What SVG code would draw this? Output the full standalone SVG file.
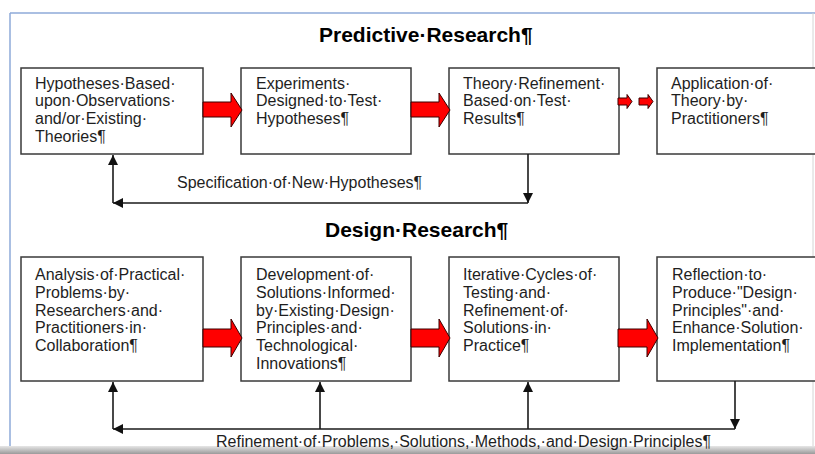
<svg xmlns="http://www.w3.org/2000/svg" width="815" height="454" viewBox="0 0 815 454">
<defs>
<marker id="ah" markerUnits="userSpaceOnUse" markerWidth="11" markerHeight="10" refX="10" refY="5" orient="auto">
<path d="M0,0 L10,5 L0,10 z" fill="#111"/>
</marker>
<linearGradient id="band" x1="0" y1="0" x2="0" y2="1">
<stop offset="0" stop-color="#e6e6e6"/>
<stop offset="1" stop-color="#9a9a9a"/>
</linearGradient>
<style>
.box{fill:#fff;stroke:#3a3a3a;stroke-width:1.5}
.t{font-family:"Liberation Sans",Arial,sans-serif;font-size:16px;fill:#1e1e1e}
.title{font-family:"Liberation Sans",Arial,sans-serif;font-size:21px;font-weight:bold;fill:#000}
.red{fill:#ff0000;stroke:#3a0000;stroke-width:1}
.conn{fill:none;stroke:#1a1a1a;stroke-width:1.6;marker-end:url(#ah)}
.line{fill:none;stroke:#1a1a1a;stroke-width:1.6}
</style>
</defs>
<rect x="0" y="0" width="815" height="454" fill="#fff"/>
<g id="frame">
<line x1="10" y1="13" x2="815" y2="13" stroke="#8eaad8" stroke-width="1.5"/>
<line x1="10" y1="13" x2="10" y2="450" stroke="#8eaad8" stroke-width="1.5"/>
<line x1="813" y1="13" x2="813" y2="450" stroke="#d4d4d4" stroke-width="1"/>
</g>
<g id="titles">
<text class="title" x="319" y="42">Predictive·Research¶</text>
<text class="title" x="325" y="237">Design·Research¶</text>
</g>
<g id="p1">
<rect class="box" x="21" y="68" width="182" height="86"/>
<text class="t" x="35" y="88.5">Hypotheses·Based·</text>
<text class="t" x="35" y="106.3">upon·Observations·</text>
<text class="t" x="35" y="124.1">and/or·Existing·</text>
<text class="t" x="35" y="141.9">Theories¶</text>
</g>
<g id="p2">
<rect class="box" x="241" y="68" width="170" height="86"/>
<text class="t" x="256" y="88.5">Experiments·</text>
<text class="t" x="256" y="106.3">Designed·to·Test·</text>
<text class="t" x="256" y="124.1">Hypotheses¶</text>
</g>
<g id="p3">
<rect class="box" x="449" y="68" width="170" height="86"/>
<text class="t" x="463" y="88.5">Theory·Refinement·</text>
<text class="t" x="463" y="106.3">Based·on·Test·</text>
<text class="t" x="463" y="124.1">Results¶</text>
</g>
<g id="p4">
<rect class="box" x="657" y="68" width="180" height="86"/>
<text class="t" x="671" y="88.5">Application·of·</text>
<text class="t" x="671" y="106.3">Theory·by·</text>
<text class="t" x="671" y="124.1">Practitioners¶</text>
</g>
<g id="d1">
<rect class="box" x="21" y="257" width="182" height="124"/>
<text class="t" x="35" y="280">Analysis·of·Practical·</text>
<text class="t" x="35" y="297.8">Problems·by·</text>
<text class="t" x="35" y="315.6">Researchers·and·</text>
<text class="t" x="35" y="333.4">Practitioners·in·</text>
<text class="t" x="35" y="351.2">Collaboration¶</text>
</g>
<g id="d2">
<rect class="box" x="241" y="257" width="170" height="124"/>
<text class="t" x="256" y="280">Development·of·</text>
<text class="t" x="256" y="297.8">Solutions·Informed·</text>
<text class="t" x="256" y="315.6">by·Existing·Design·</text>
<text class="t" x="256" y="333.4">Principles·and·</text>
<text class="t" x="256" y="351.2">Technological·</text>
<text class="t" x="256" y="369">Innovations¶</text>
</g>
<g id="d3">
<rect class="box" x="449" y="257" width="170" height="124"/>
<text class="t" x="463" y="280">Iterative·Cycles·of·</text>
<text class="t" x="463" y="297.8">Testing·and·</text>
<text class="t" x="463" y="315.6">Refinement·of·</text>
<text class="t" x="463" y="333.4">Solutions·in·</text>
<text class="t" x="463" y="351.2">Practice¶</text>
</g>
<g id="d4">
<rect class="box" x="657" y="257" width="180" height="124"/>
<text class="t" x="672" y="280">Reflection·to·</text>
<text class="t" x="672" y="297.8">Produce·"Design·</text>
<text class="t" x="672" y="315.6">Principles"·and·</text>
<text class="t" x="672" y="333.4">Enhance·Solution·</text>
<text class="t" x="672" y="351.2">Implementation¶</text>
</g>
<g id="connectors">
<path class="red" d="M203,102 L231,102 L231,93 L242,110 L231,127 L231,117 L203,117 z"/>
<path class="red" d="M411,102 L439,102 L439,93 L450,110 L439,127 L439,117 L411,117 z"/>
<path class="red" d="M618,98 L627,98 L627,94.5 L632,101.5 L627,108.5 L627,105 L618,105 z"/>
<path class="red" d="M639,98 L648,98 L648,94.5 L653,101.5 L648,108.5 L648,105 L639,105 z"/>
<path class="red" d="M203,329 L231,329 L231,319 L242,338 L231,357 L231,347 L203,347 z"/>
<path class="red" d="M411,329 L439,329 L439,319 L450,338 L439,357 L439,347 L411,347 z"/>
<path class="red" d="M618,329 L647,329 L647,319 L658,338 L647,357 L647,347 L618,347 z"/>
<line class="conn" x1="528" y1="154" x2="528" y2="203"/>
<line class="conn" x1="528" y1="203" x2="113" y2="203"/>
<line class="conn" x1="113" y1="203" x2="113" y2="155"/>
<text class="t" x="177" y="188">Specification·of·New·Hypotheses¶</text>
<line class="conn" x1="735" y1="381" x2="735" y2="429"/>
<line class="conn" x1="735" y1="429" x2="113" y2="429"/>
<line class="conn" x1="113" y1="429" x2="113" y2="382"/>
<line class="conn" x1="320" y1="429" x2="320" y2="382"/>
<line class="conn" x1="528" y1="429" x2="528" y2="382"/>
</g>
<rect x="0" y="446" width="815" height="8" fill="url(#band)"/>
<text class="t" x="216" y="447">Refinement·of·Problems,·Solutions,·Methods,·and·Design·Principles¶</text>
</svg>
